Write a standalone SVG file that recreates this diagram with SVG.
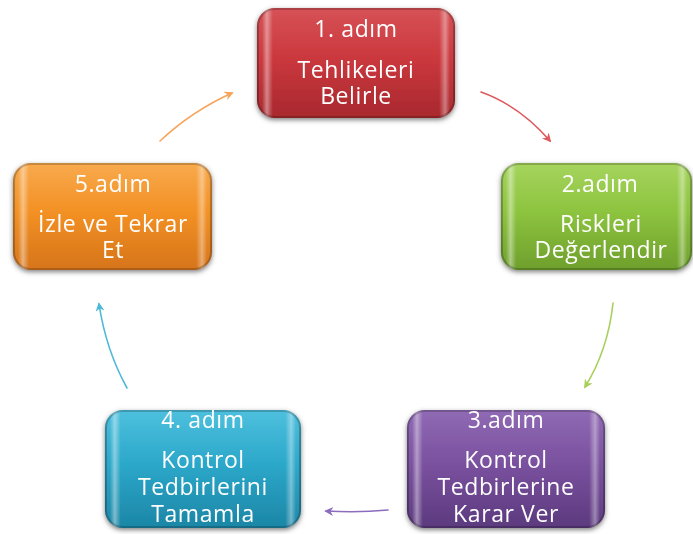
<svg xmlns="http://www.w3.org/2000/svg" width="693" height="534" viewBox="0 0 693 534">
<defs>
<style>
.lbl{font-family:"Open Sans","Noto Sans",sans-serif;font-size:23px;fill:#ffffff;text-anchor:middle;letter-spacing:0.6px}
.gloss{fill:url(#gloss)}
.edge{fill:none;stroke:#000;stroke-opacity:0.2;stroke-width:2}
.conn{fill:none;stroke-width:1.6;stroke-linecap:round}
</style>
<filter id="sh" x="-10%" y="-10%" width="120%" height="125%">
<feGaussianBlur in="SourceAlpha" stdDeviation="2.5"/>
<feOffset dx="0" dy="2" result="b"/>
<feFlood flood-color="#555" flood-opacity="0.75"/>
<feComposite in2="b" operator="in"/>
<feMerge><feMergeNode/><feMergeNode in="SourceGraphic"/></feMerge>
</filter>
<linearGradient id="gloss" x1="0" y1="0" x2="1" y2="0">
<stop offset="0" stop-color="#000" stop-opacity="0.12"/>
<stop offset="0.025" stop-color="#fff" stop-opacity="0"/>
<stop offset="0.05" stop-color="#fff" stop-opacity="0.42"/>
<stop offset="0.08" stop-color="#fff" stop-opacity="0"/>
<stop offset="0.92" stop-color="#fff" stop-opacity="0"/>
<stop offset="0.95" stop-color="#fff" stop-opacity="0.38"/>
<stop offset="0.975" stop-color="#fff" stop-opacity="0"/>
<stop offset="1" stop-color="#000" stop-opacity="0.12"/>
</linearGradient>
<linearGradient id="gRed" x1="0" y1="0" x2="0" y2="1">
<stop offset="0" stop-color="#D65256"/><stop offset="0.45" stop-color="#CB383E"/><stop offset="1" stop-color="#A8282E"/>
</linearGradient>
<linearGradient id="gGreen" x1="0" y1="0" x2="0" y2="1">
<stop offset="0" stop-color="#A6D45E"/><stop offset="0.45" stop-color="#8DC43F"/><stop offset="1" stop-color="#6E9F2C"/>
</linearGradient>
<linearGradient id="gPurple" x1="0" y1="0" x2="0" y2="1">
<stop offset="0" stop-color="#906AB4"/><stop offset="0.45" stop-color="#7A519F"/><stop offset="1" stop-color="#5C3A7E"/>
</linearGradient>
<linearGradient id="gBlue" x1="0" y1="0" x2="0" y2="1">
<stop offset="0" stop-color="#4EC0DE"/><stop offset="0.45" stop-color="#2CA8CA"/><stop offset="1" stop-color="#1C86A6"/>
</linearGradient>
<linearGradient id="gOrange" x1="0" y1="0" x2="0" y2="1">
<stop offset="0" stop-color="#F8AA4E"/><stop offset="0.45" stop-color="#F39125"/><stop offset="1" stop-color="#D6741A"/>
</linearGradient>
<marker id="aOrange" viewBox="0 0 10 10" refX="8" refY="5" markerWidth="9" markerHeight="9" markerUnits="userSpaceOnUse" orient="auto"><path d="M0,0 L10,5 L0,10 L3,5 Z" fill="#F7A45C"/></marker>
<marker id="aRed" viewBox="0 0 10 10" refX="8" refY="5" markerWidth="9" markerHeight="9" markerUnits="userSpaceOnUse" orient="auto"><path d="M0,0 L10,5 L0,10 L3,5 Z" fill="#DE5A5E"/></marker>
<marker id="aGreen" viewBox="0 0 10 10" refX="8" refY="5" markerWidth="9" markerHeight="9" markerUnits="userSpaceOnUse" orient="auto"><path d="M0,0 L10,5 L0,10 L3,5 Z" fill="#A8CF5C"/></marker>
<marker id="aPurple" viewBox="0 0 10 10" refX="8" refY="5" markerWidth="9" markerHeight="9" markerUnits="userSpaceOnUse" orient="auto"><path d="M0,0 L10,5 L0,10 L3,5 Z" fill="#8C6CBE"/></marker>
<marker id="aBlue" viewBox="0 0 10 10" refX="8" refY="5" markerWidth="9" markerHeight="9" markerUnits="userSpaceOnUse" orient="auto"><path d="M0,0 L10,5 L0,10 L3,5 Z" fill="#4DB8D8"/></marker>
</defs>
<rect width="693" height="534" fill="#ffffff"/>
<g id="connectors">
<path class="conn" stroke="#F7A45C" marker-end="url(#aOrange)" d="M160,141 Q192,111 232,93"/>
<path class="conn" stroke="#DE5A5E" marker-end="url(#aRed)" d="M481,92 Q520,106 550,141"/>
<path class="conn" stroke="#A8CF5C" marker-end="url(#aGreen)" d="M613,303 Q608,350 585,387"/>
<path class="conn" stroke="#8C6CBE" marker-end="url(#aPurple)" d="M388,510 Q358,513 326,511"/>
<path class="conn" stroke="#4DB8D8" marker-end="url(#aBlue)" d="M127,388 Q106,350 99,304"/>
</g>
<g id="node1" filter="url(#sh)">
<rect x="257" y="8" width="198" height="110" rx="18" fill="url(#gRed)"/>
<rect x="257" y="8" width="198" height="110" rx="18" class="gloss"/>
<rect x="258" y="9" width="196" height="108" rx="17" class="edge"/>
<text class="lbl" x="356" y="37">1. adım</text>
<text class="lbl" x="356" y="78">Tehlikeleri</text>
<text class="lbl" x="356" y="104">Belirle</text>
</g>
<g id="node2" filter="url(#sh)">
<rect x="501" y="163" width="191" height="107" rx="18" fill="url(#gGreen)"/>
<rect x="501" y="163" width="191" height="107" rx="18" class="gloss"/>
<rect x="502" y="164" width="189" height="105" rx="17" class="edge"/>
<text class="lbl" x="600" y="192">2.adım</text>
<text class="lbl" x="601" y="232">Riskleri</text>
<text class="lbl" x="601" y="258">Değerlendir</text>
</g>
<g id="node3" filter="url(#sh)">
<rect x="407" y="410" width="198" height="118" rx="18" fill="url(#gPurple)"/>
<rect x="407" y="410" width="198" height="118" rx="18" class="gloss"/>
<rect x="408" y="411" width="196" height="116" rx="17" class="edge"/>
<text class="lbl" x="506" y="428">3.adım</text>
<text class="lbl" x="506" y="468">Kontrol</text>
<text class="lbl" x="506" y="495">Tedbirlerine</text>
<text class="lbl" x="506" y="522">Karar Ver</text>
</g>
<g id="node4" filter="url(#sh)">
<rect x="105" y="410" width="196" height="118" rx="18" fill="url(#gBlue)"/>
<rect x="105" y="410" width="196" height="118" rx="18" class="gloss"/>
<rect x="106" y="411" width="194" height="116" rx="17" class="edge"/>
<text class="lbl" x="203" y="428">4. adım</text>
<text class="lbl" x="203" y="468">Kontrol</text>
<text class="lbl" x="203" y="495">Tedbirlerini</text>
<text class="lbl" x="203" y="522">Tamamla</text>
</g>
<g id="node5" filter="url(#sh)">
<rect x="13" y="163" width="199" height="107" rx="18" fill="url(#gOrange)"/>
<rect x="13" y="163" width="199" height="107" rx="18" class="gloss"/>
<rect x="14" y="164" width="197" height="105" rx="17" class="edge"/>
<text class="lbl" x="113" y="192">5.adım</text>
<text class="lbl" x="113" y="232">İzle ve Tekrar</text>
<text class="lbl" x="113" y="258">Et</text>
</g>
</svg>
